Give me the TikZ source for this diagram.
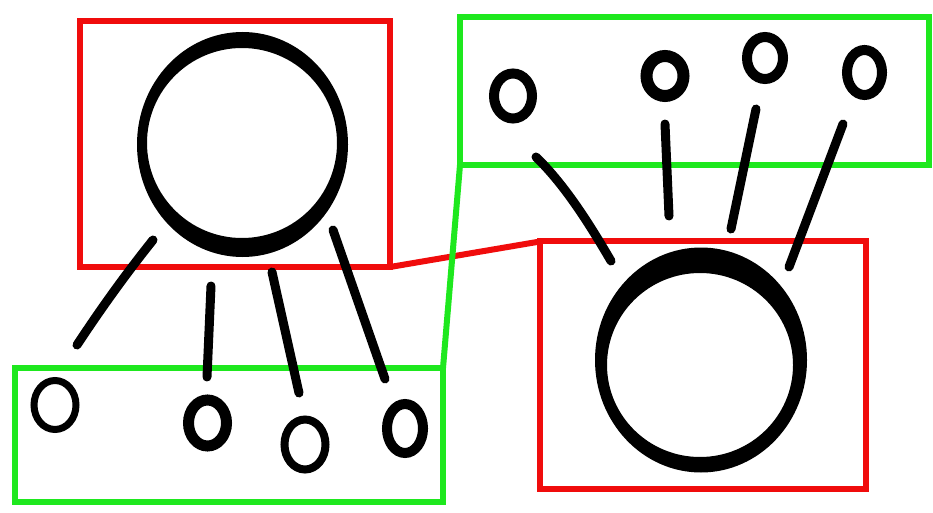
\documentclass[tikz,border=0pt]{standalone}
\begin{document}
\begin{tikzpicture}[x=1pt,y=-1pt,
  redbox/.style={draw={rgb,255:red,240;green,12;blue,12},line width=6pt,line join=miter},
  greenbox/.style={draw={rgb,255:red,30;green,232;blue,30},line width=6pt,line join=miter},
  stroke/.style={draw=black,line width=9pt,line cap=round},
  ring/.style={draw=black,line width=#1}]
\useasboundingbox[fill=white] (0,0) rectangle (933,513);
% boxes
\coordinate (r1a) at (80,21);  \coordinate (r1b) at (390,267);
\coordinate (r2a) at (540,241); \coordinate (r2b) at (866,489);
\coordinate (g1a) at (460,17); \coordinate (g1b) at (929,165);
\coordinate (g2a) at (15,368); \coordinate (g2b) at (443,502);
\draw[redbox] (r1a) rectangle (r1b);
\draw[redbox] (r2a) rectangle (r2b);
\draw[greenbox] (g1a) rectangle (g1b);
\draw[greenbox] (g2a) rectangle (g2b);
% connectors between boxes
\draw[redbox,line cap=round] (r1b) -- (537,242);
\draw[greenbox,line cap=round] (g1a |- g1b) -- (g2b |- g2a);
% big rings
\fill[black,even odd rule] (242.5,144.5) ellipse [x radius=105.5, y radius=112.5]
  (242,143) ellipse [x radius=95, y radius=95];
\fill[black,even odd rule] (701,360) ellipse [x radius=106, y radius=112.5]
  (700,365) ellipse [x radius=93, y radius=92];
% top small rings
\draw[ring=10pt] (513,96) ellipse [x radius=19, y radius=22.5];
\draw[ring=12pt] (665,76) ellipse [x radius=18.5, y radius=20];
\draw[ring=10pt] (765,58) ellipse [x radius=18, y radius=21];
\draw[ring=10pt] (864.5,72.5) ellipse [x radius=17.5, y radius=22.5];
% top strokes
\draw[stroke] (536,157) .. controls (565,185) and (590,225) .. (611,261);
\draw[stroke] (665,124) -- (669,216);
\draw[stroke] (756,109) -- (731,229);
\draw[stroke] (843,124) -- (789,267);
% bottom small rings
\draw[ring=7pt] (55,405) ellipse [x radius=21, y radius=24.5];
\draw[ring=11pt] (207.5,423) ellipse [x radius=19, y radius=23];
\draw[ring=8pt] (305,444.5) ellipse [x radius=20.5, y radius=25];
\draw[ring=10pt] (405,428.5) ellipse [x radius=18, y radius=24.5];
% bottom strokes
\draw[stroke] (153,240) .. controls (125,275) and (100,310) .. (77,345);
\draw[stroke] (211,286) -- (207,377);
\draw[stroke] (272,272) -- (299,393);
\draw[stroke] (333,230) -- (385,379);
\end{tikzpicture}
\end{document}
